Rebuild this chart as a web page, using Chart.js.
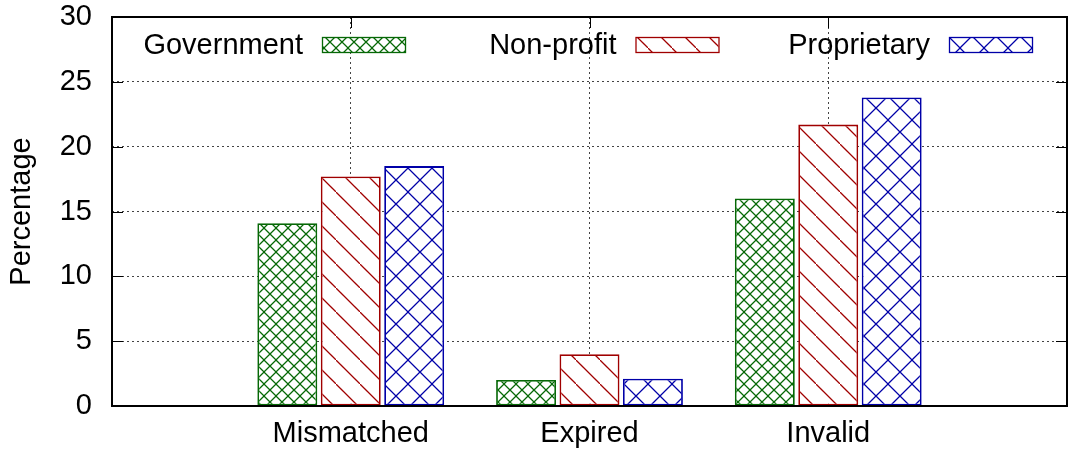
<!DOCTYPE html>
<html>
<head>
<meta charset="utf-8">
<script src="https://cdn.jsdelivr.net/npm/chart.js@4.4.1/dist/chart.umd.min.js"></script>
<style>
  html, body { margin: 0; padding: 0; background: #fff; }
  #wrap { width: 1071px; height: 454px; }
</style>
</head>
<body>
<div id="wrap"><canvas id="c" width="1071" height="454"></canvas></div>
<script>
// Categories and per-sector percentages
const categories = ['Mismatched', 'Expired', 'Invalid'];
const seriesNames = ['Government', 'Non-profit', 'Proprietary'];
const government = [14.1, 2.0, 16.0];
const nonProfit = [17.7, 4.0, 21.7];
const proprietary = [18.5, 2.1, 23.8];
const yTickValues = [0, 5, 10, 15, 20, 25, 30];

const FONT = 'Liberation Sans, Arial, Helvetica, sans-serif';
const FONT_SIZE = 29;

// Hatched fills: period in px, '\\' and/or '/' line directions
function hatch(color, period, dirs) {
  const c = document.createElement('canvas');
  c.width = c.height = period;
  const g = c.getContext('2d');
  g.fillStyle = '#fff';
  g.fillRect(0, 0, period, period);
  g.strokeStyle = color;
  g.lineWidth = 1.25;
  g.beginPath();
  if (dirs.includes('\\')) { g.moveTo(-2, -2); g.lineTo(period + 2, period + 2); }
  if (dirs.includes('/')) { g.moveTo(-2, period + 2); g.lineTo(period + 2, -2); }
  g.stroke();
  return g.createPattern(c, 'repeat');
}

const colors = ['#066806', '#a00000', '#0000a8'];
const fills = [
  hatch(colors[0], 12, '\\/'),
  hatch(colors[1], 24, '\\'),
  hatch(colors[2], 24, '\\/')
];
const seriesValues = [government, nonProfit, proprietary];

const datasets = seriesNames.map((name, s) => ({
  label: name,
  data: seriesValues[s].map((v, i) => ({ x: i, y: v })),
  backgroundColor: fills[s],
  borderColor: colors[s],
  borderWidth: 1.8,
  borderSkipped: false,
  categoryPercentage: 0.797,
  barPercentage: 0.945
}));

// Inward tick marks on all four sides (behind the bars)
const innerTicks = {
  id: 'innerTicks',
  beforeDatasetsDraw(chart) {
    const { ctx, chartArea: a, scales: { x, y } } = chart;
    const tl = 11;
    ctx.save();
    ctx.strokeStyle = '#000';
    ctx.lineWidth = 1;
    ctx.beginPath();
    y.ticks.forEach(t => {
      const py = Math.round(y.getPixelForValue(t.value)) + 0.5;
      ctx.moveTo(a.left, py); ctx.lineTo(a.left + tl, py);
      ctx.moveTo(a.right, py); ctx.lineTo(a.right - tl, py);
    });
    x.ticks.forEach(t => {
      const px = Math.round(x.getPixelForValue(t.value)) + 0.5;
      ctx.moveTo(px, a.bottom); ctx.lineTo(px, a.bottom - tl);
      ctx.moveTo(px, a.top); ctx.lineTo(px, a.top + tl);
    });
    ctx.stroke();
    ctx.restore();
  }
};

// Plot frame and the in-plot key (text on the left, sample box on the right)
const frameAndKey = {
  id: 'frameAndKey',
  afterDatasetsDraw(chart) {
    const { ctx, chartArea: a } = chart;
    ctx.save();
    ctx.strokeStyle = '#000';
    ctx.lineWidth = 2;
    ctx.strokeRect(a.left, a.top, a.right - a.left, a.bottom - a.top);

    const colW = 313.5, boxW = 83, boxH = 15;
    ctx.font = FONT_SIZE + 'px ' + FONT;
    ctx.textAlign = 'right';
    ctx.textBaseline = 'middle';
    chart.data.datasets.forEach((ds, i) => {
      const bx = a.left + 210 + i * colW;
      const by = a.top + 20;
      ctx.fillStyle = ds.backgroundColor;
      ctx.fillRect(bx, by, boxW, boxH);
      ctx.strokeStyle = ds.borderColor;
      ctx.lineWidth = 1.3;
      ctx.strokeRect(bx + 0.5, by + 0.5, boxW, boxH);
      ctx.fillStyle = '#000';
      ctx.fillText(ds.label, bx - 19, by + boxH / 2 + 1);
    });
    ctx.restore();
  }
};

new Chart(document.getElementById('c'), {
  type: 'bar',
  data: { datasets },
  options: {
    responsive: false,
    animation: false,
    devicePixelRatio: 1,
    layout: { padding: { top: 17, right: 4, left: 0, bottom: 0 } },
    plugins: { legend: { display: false }, tooltip: { enabled: false } },
    scales: {
      x: {
        type: 'linear',
        min: -1,
        max: 3,
        offset: false,
        afterBuildTicks: s => { s.ticks = categories.map((_, i) => ({ value: i })); },
        afterFit: s => { s.height = 48; s.paddingLeft = 0; s.paddingRight = 0; },
        ticks: {
          callback: v => categories[v] ?? '',
          color: '#000',
          font: { family: FONT, size: FONT_SIZE },
          padding: 11,
          maxRotation: 0,
          autoSkip: false
        },
        grid: { color: '#444', lineWidth: 1, drawTicks: false, offset: false },
        border: { display: false, dash: [2, 3] }
      },
      y: {
        min: 0,
        max: 30,
        afterBuildTicks: s => { s.ticks = yTickValues.map(v => ({ value: v })); },
        afterFit: s => { s.width = 112; s.paddingTop = 0; s.paddingBottom = 0; },
        ticks: {
          color: '#000',
          font: { family: FONT, size: FONT_SIZE },
          padding: 20
        },
        grid: { color: '#444', lineWidth: 1, drawTicks: false },
        border: { display: false, dash: [2, 3] },
        title: {
          display: true,
          text: 'Percentage',
          color: '#000',
          font: { family: FONT, size: FONT_SIZE },
          padding: { top: 5, bottom: 0 }
        }
      }
    }
  },
  plugins: [innerTicks, frameAndKey]
});
</script>
</body>
</html>
